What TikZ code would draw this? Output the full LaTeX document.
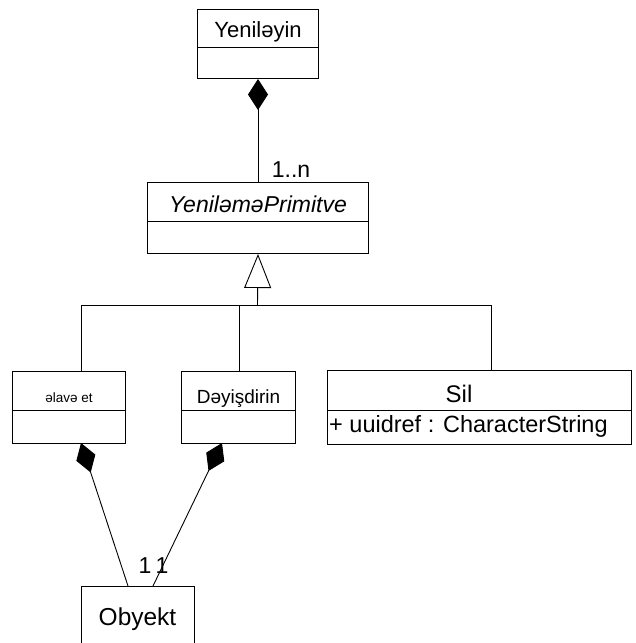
\documentclass[tikz,border=0pt]{standalone}
\usepackage{fontspec}
\setmainfont{Liberation Sans}
\usetikzlibrary{arrows.meta,calc}
\tikzset{
  box/.style={draw, line width=1pt, inner sep=0pt, anchor=north west},
  lbl/.style={inner sep=0pt},
  conn/.style={line width=0.9pt},
  comp/.style={conn, {Diamond[length=31pt,width=20pt]}-},
  gen/.style={conn, {Triangle[open,length=34pt,width=27pt,line width=0.9pt]}-},
}
\newcommand{\fs}[1]{\fontsize{#1}{#1}\selectfont}
\begin{document}
\begin{tikzpicture}[x=1pt,y=-1pt]
\useasboundingbox (0,0) rectangle (635,643);
\clip (0,0) rectangle (635,643);
% Yenileyin
\node[box, minimum width=121pt, minimum height=38pt, font=\fs{22}, text height=18pt, text depth=0pt] (yt) at (197,9) {Yeniləyin};
\node[box, minimum width=121pt, minimum height=31pt] (yb) at (197,47) {};
% YenilemePrimitve
\node[box, minimum width=221pt, minimum height=39pt, font=\fs{23}\itshape, text height=20pt, text depth=0pt] (pt) at (147,182) {YeniləməPrimitve};
\node[box, minimum width=221pt, minimum height=32pt] (pb) at (147,221) {};
% elave et
\node[box, minimum width=113pt, minimum height=39pt, font=\fs{13.5}, text height=23pt, text depth=0pt] (at) at (12,371) {əlavə et};
\node[box, minimum width=113pt, minimum height=33pt] (ab) at (12,410) {};
% Deyisdirin
\node[box, minimum width=114pt, minimum height=39pt, font=\fs{19}, text height=25pt, text depth=0pt] (dt) at (181,371) {Dəyişdirin};
\node[box, minimum width=114pt, minimum height=33pt] (db) at (181,410) {};
% Sil
\node[box, minimum width=304pt, minimum height=40pt] (st) at (327,370) {};
\node[lbl, anchor=base, font=\fs{24}] (sn) at (459,402) {Sil};
\node[box, minimum width=304pt, minimum height=34pt] (sb) at (327,410) {};
\node[lbl, anchor=base west, font=\fs{23.5}] (sa) at (329,432) {+ uuidref : CharacterString};
% Obyekt
\node[box, minimum width=113pt, minimum height=80pt] (ob) at (81,586) {};
\node[lbl, anchor=base, font=\fs{24.5}] (on) at (137.5,625) {Obyekt};
% composition top
\draw[comp] (yb.south) -- (pt.north);
\node[lbl, anchor=base, font=\fs{23}] (m1) at (291,177) {1..n};
% generalization
\coordinate (j) at (257.5,305);
\draw[gen] (pb.south) -- (j);
\coordinate (ja) at (81,305);
\coordinate (js) at (491,305);
\draw[conn] (ja) -- (js);
\draw[conn] (ja) -- (ja |- at.north);
\draw[conn] (j -| 239,0) -- (239,371);
\draw[conn] (js) -- (js |- st.north);
% compositions bottom
\coordinate (c1) at (81,443);
\coordinate (c2) at (222,443);
\draw[comp] (c1) -- ($(ob.north west)+(47,0)$);
\draw[comp] (c2) -- ($(ob.north west)+(72,0)$);
\node[lbl, anchor=base, font=\fs{23}] (n1) at (145,573) {1};
\node[lbl, anchor=base, font=\fs{23}] (n2) at (162,573) {1};
\end{tikzpicture}
\end{document}
